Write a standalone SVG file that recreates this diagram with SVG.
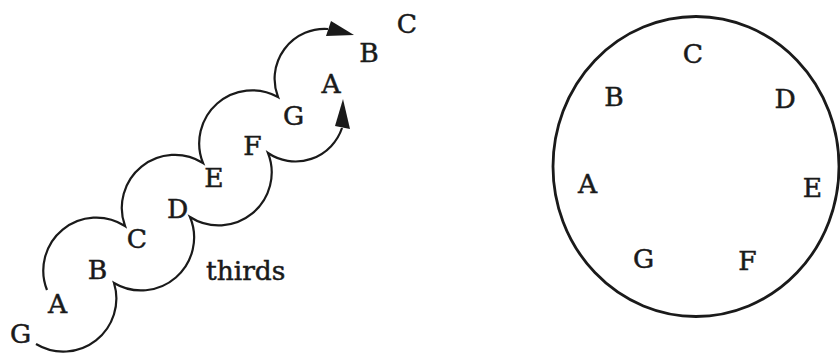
<svg xmlns="http://www.w3.org/2000/svg" width="840" height="354" viewBox="0 0 840 354">
<style>
.t{font-family:"DejaVu Serif","Liberation Serif",serif;font-size:26.5px;fill:#1a1a1a;stroke:#1a1a1a;stroke-width:0.5;text-anchor:middle}
.w{text-anchor:start}
.arc{fill:none;stroke:#1a1a1a;stroke-width:2.2}
.head{fill:#1a1a1a;stroke:none}
.ring{fill:none;stroke:#1a1a1a;stroke-width:2.8}
</style>
<rect width="840" height="354" fill="#fff"/>
<g id="connectors">
<path class="arc" d="M47 290 A53 53 0 0 1 125 226 A53 53 0 0 1 203 163 A53 53 0 0 1 278 97 A50 50 0 0 1 328 29"/>
<path class="arc" d="M36 344 A53 53 0 0 0 114 283 A53 53 0 0 0 190 217 A53 53 0 0 0 268 153 A49 49 0 0 0 342 128"/>
<polygon class="head" points="331,21 354,35 326,36"/>
<polygon class="head" points="343,99 350,129 335,126"/>
</g>
<g id="chain-labels">
<text class="t" x="20.5" y="343">G</text>
<text class="t" x="57.5" y="313">A</text>
<text class="t" x="97.5" y="279">B</text>
<text class="t" x="137" y="248">C</text>
<text class="t" x="177.5" y="218">D</text>
<text class="t" x="214" y="187">E</text>
<text class="t" x="252.5" y="155">F</text>
<text class="t" x="293.5" y="125">G</text>
<text class="t" x="331" y="93">A</text>
<text class="t" x="369" y="62">B</text>
<text class="t" x="407" y="33">C</text>
<text class="t w" x="206" y="280">thirds</text>
</g>
<g id="circle">
<ellipse class="ring" cx="696" cy="166.5" rx="143" ry="150"/>
<text class="t" x="693" y="63">C</text>
<text class="t" x="614" y="106">B</text>
<text class="t" x="785" y="108">D</text>
<text class="t" x="587.5" y="193">A</text>
<text class="t" x="812.5" y="197">E</text>
<text class="t" x="643.5" y="268">G</text>
<text class="t" x="747.5" y="270">F</text>
</g>
</svg>
